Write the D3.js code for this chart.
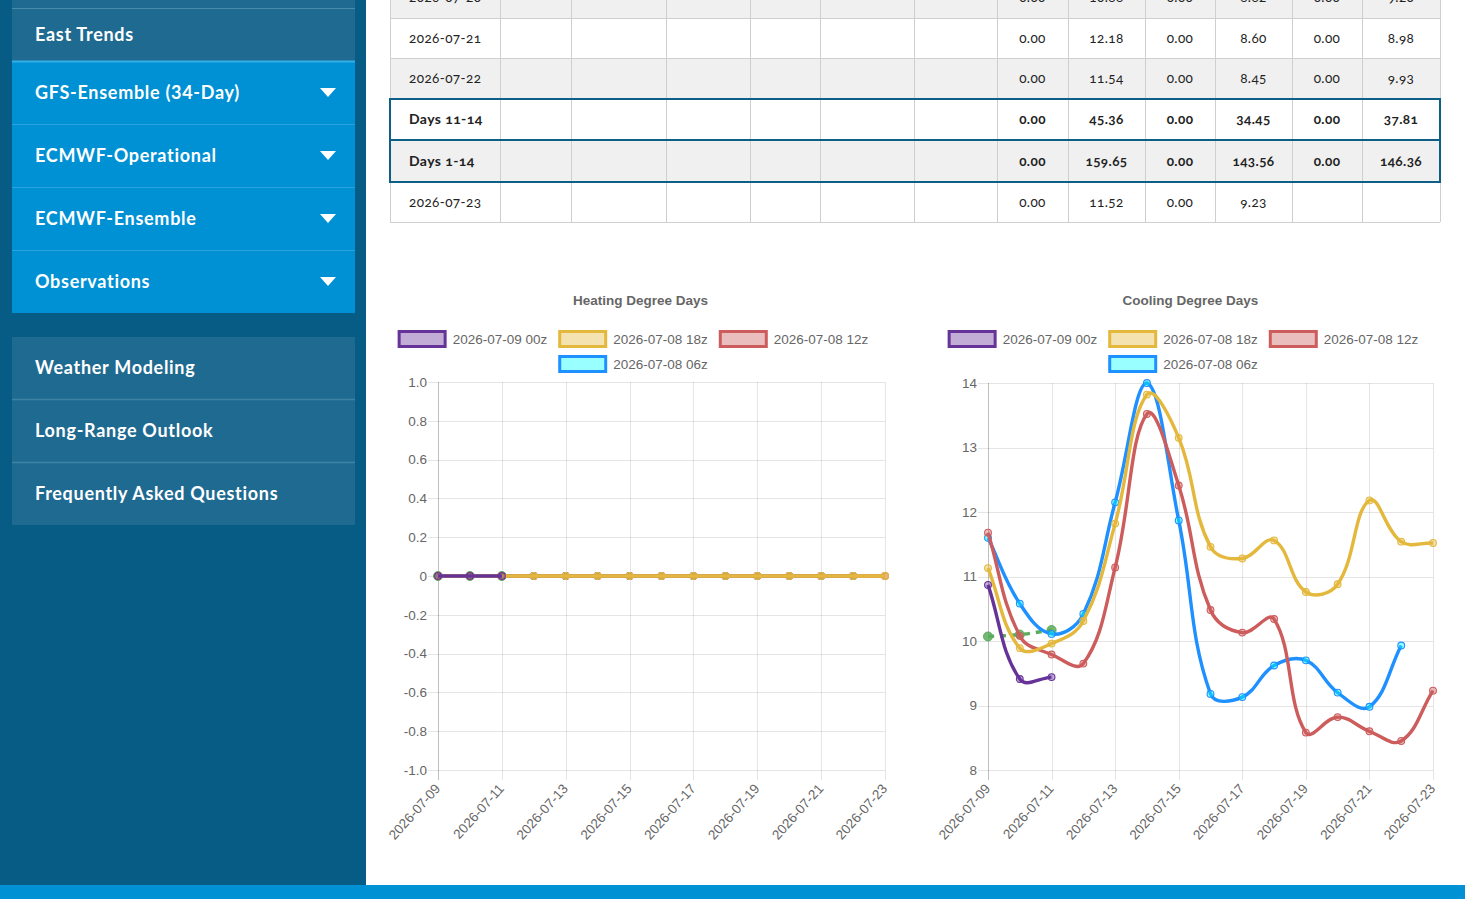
<!DOCTYPE html>
<html>
<head>
<meta charset="utf-8">
<script src="https://cdn.jsdelivr.net/npm/d3@7"></script>
<style>
  body { margin: 0; overflow: hidden; background: #fff; }
  svg { display: block; }
  .nav text { font-family: Lato, "Open Sans", sans-serif; font-weight: 700; font-size: 18px; letter-spacing: 0.7px; fill: #fff; }
  .tbl text { font-family: Lato, "Open Sans", sans-serif; font-size: 13.5px; letter-spacing: 0.4px; fill: #222; font-variant-numeric: oldstyle-nums; }
  .chart text { font-family: "Liberation Sans", Arial, sans-serif; fill: #666; font-size: 13.5px; }
</style>
</head>
<body>
<svg id="page" width="1465" height="899"></svg>
<script>
// ---- data ----
const dates = ["2026-07-09", "2026-07-10", "2026-07-11", "2026-07-12", "2026-07-13", "2026-07-14", "2026-07-15",
               "2026-07-16", "2026-07-17", "2026-07-18", "2026-07-19", "2026-07-20", "2026-07-21", "2026-07-22", "2026-07-23"];
const runLabels = ["2026-07-09 00z", "2026-07-08 18z", "2026-07-08 12z", "2026-07-08 06z"];

const hdd00z = [0, 0, 0];
const hdd18z = [0, 0, 0, 0, 0, 0, 0, 0, 0, 0, 0, 0, 0, 0, 0];
const hdd12z = [0, 0, 0, 0, 0, 0, 0, 0, 0, 0, 0, 0, 0, 0, 0];
const hdd06z = [0, 0, 0, 0, 0, 0, 0, 0, 0, 0, 0, 0, 0, 0];
const hddObserved = [0, 0, 0];

const cdd00z = [10.87, 9.41, 9.44];
const cdd18z = [11.13, 9.89, 9.96, 10.31, 11.82, 13.82, 13.15, 11.46, 11.28, 11.56, 10.76, 10.88, 12.18, 11.54, 11.52];
const cdd12z = [11.68, 10.08, 9.79, 9.65, 11.14, 13.52, 12.41, 10.48, 10.13, 10.34, 8.58, 8.82, 8.60, 8.45, 9.23];
const cdd06z = [11.60, 10.58, 10.11, 10.42, 12.15, 14.00, 11.87, 9.18, 9.13, 9.62, 9.70, 9.20, 8.98, 9.93];
const cddObserved = [10.07, 10.10, 10.17];

const hddTicks = [-1, -0.8, -0.6, -0.4, -0.2, 0, 0.2, 0.4, 0.6, 0.8, 1];
const hddTickLabels = ["-1.0", "-0.8", "-0.6", "-0.4", "-0.2", "0", "0.2", "0.4", "0.6", "0.8", "1.0"];
const cddTicks = [8, 9, 10, 11, 12, 13, 14];
const cddTickLabels = ["8", "9", "10", "11", "12", "13", "14"];

const tableRowLabels = ["2026-07-20", "2026-07-21", "2026-07-22", "Days 11-14", "Days 1-14", "2026-07-23"];
const days11to14 = [0.00, 45.36, 0.00, 34.45, 0.00, 37.81];
const days1to14 = [0.00, 159.65, 0.00, 143.56, 0.00, 146.36];

const navTop = ["East Trends"];
const navModels = ["GFS-Ensemble (34-Day)", "ECMWF-Operational", "ECMWF-Ensemble", "Observations"];
const navLower = ["Weather Modeling", "Long-Range Outlook", "Frequently Asked Questions"];

// ---- page ----
const svg = d3.select("#page");

svg.append("rect").attr("x", 0).attr("y", 0).attr("width", 366).attr("height", 899).attr("fill", "#065c85");
svg.append("rect").attr("x", 0).attr("y", 885).attr("width", 1465).attr("height", 14).attr("fill", "#0090d4");

// sidebar
const nav = svg.append("g").attr("class", "nav");
nav.append("rect").attr("x", 12).attr("y", 0).attr("width", 343).attr("height", 61).attr("fill", "#1f6a90");
nav.append("line").attr("x1", 12).attr("x2", 355).attr("y1", 8.5).attr("y2", 8.5).attr("stroke", "#4a8aab");
nav.selectAll("text.top").data(navTop).join("text")
  .attr("class", "top")
  .attr("x", 35).attr("y", 35).attr("dy", "0.35em")
  .text(d => d);

nav.append("rect").attr("x", 12).attr("y", 61).attr("width", 343).attr("height", 252).attr("fill", "#0090d4");
nav.append("line").attr("x1", 12).attr("x2", 355).attr("y1", 61.5).attr("y2", 61.5).attr("stroke", "#33aee8").attr("stroke-width", 2);
navModels.forEach((label, i) => {
  const y0 = 61 + i * 63;
  if (i > 0) nav.append("line").attr("x1", 12).attr("x2", 355).attr("y1", y0 + 0.5).attr("y2", y0 + 0.5).attr("stroke", "#2ba2dc");
  nav.append("text").attr("x", 35).attr("y", y0 + 32).attr("dy", "0.35em").text(label);
  nav.append("path")
    .attr("d", `M320,${y0 + 27}L336,${y0 + 27}L328,${y0 + 36}Z`)
    .attr("fill", "#fff");
});

nav.append("rect").attr("x", 12).attr("y", 337).attr("width", 343).attr("height", 188).attr("fill", "#1f6a90");
navLower.forEach((label, i) => {
  const y0 = 337 + i * 63;
  if (i > 0) nav.append("line").attr("x1", 12).attr("x2", 355).attr("y1", y0 - 0.5).attr("y2", y0 - 0.5).attr("stroke", "#3f82a5").attr("stroke-width", 1.5);
  nav.append("text").attr("x", 35).attr("y", y0 + 31).attr("dy", "0.35em").text(label);
});

// table
const colEdges = [390, 500, 571, 666, 750, 820, 914, 997, 1068, 1145, 1215, 1292, 1362, 1440];
const rowEdges = [-23, 18, 58, 99, 140, 182, 222];
const fmt = d3.format(".2f");
const tbl = svg.append("g").attr("class", "tbl");

const rowValues = tableRowLabels.map(label => {
  if (label === "Days 11-14") return days11to14;
  if (label === "Days 1-14") return days1to14;
  const i = dates.indexOf(label);
  return [hdd18z[i], cdd18z[i], hdd12z[i], cdd12z[i], hdd06z[i], cdd06z[i]];
});

tbl.selectAll("rect.row").data(tableRowLabels).join("rect")
  .attr("class", "row")
  .attr("x", colEdges[0]).attr("width", colEdges[colEdges.length - 1] - colEdges[0])
  .attr("y", (d, i) => rowEdges[i]).attr("height", (d, i) => rowEdges[i + 1] - rowEdges[i])
  .attr("fill", (d, i) => i % 2 === 0 ? "#f0f0f0" : "#fff");

tbl.selectAll("line.v").data(colEdges).join("line")
  .attr("class", "v")
  .attr("x1", d => d + 0.5).attr("x2", d => d + 0.5)
  .attr("y1", rowEdges[0]).attr("y2", rowEdges[rowEdges.length - 1])
  .attr("stroke", "#cfcfcf");
tbl.selectAll("line.h").data(rowEdges).join("line")
  .attr("class", "h")
  .attr("x1", colEdges[0]).attr("x2", colEdges[colEdges.length - 1])
  .attr("y1", d => d + 0.5).attr("y2", d => d + 0.5)
  .attr("stroke", "#cfcfcf");

tableRowLabels.forEach((label, r) => {
  const bold = label.startsWith("Days");
  const cy = (rowEdges[r] + rowEdges[r + 1]) / 2;
  tbl.append("text")
    .attr("x", 409).attr("y", cy).attr("dy", "0.35em")
    .style("font-weight", bold ? 700 : 400)
    .style("font-size", bold ? "14px" : null)
    .text(label);
  rowValues[r].forEach((v, c) => {
    if (v === undefined) return;
    tbl.append("text")
      .attr("x", (colEdges[7 + c] + colEdges[8 + c]) / 2).attr("y", cy).attr("dy", "0.35em")
      .attr("text-anchor", "middle")
      .style("font-weight", bold ? 700 : 400)
      .text(fmt(v));
  });
});

tbl.append("rect")
  .attr("x", 390).attr("y", 99).attr("width", 1050).attr("height", 83)
  .attr("fill", "none").attr("stroke", "#0d5f88").attr("stroke-width", 2);
tbl.append("line")
  .attr("x1", 390).attr("x2", 1440).attr("y1", 140).attr("y2", 140)
  .attr("stroke", "#0d5f88").attr("stroke-width", 2);

// ---- charts ----
const runColors = ["#663399", "#e4b83c", "#cd5c5c", "#1e90ff"];
const runFills = ["rgba(102,51,153,0.4)", "rgba(228,184,60,0.4)", "rgba(205,92,92,0.4)", "rgba(0,255,255,0.4)"];
const obsColor = "#5aab5a";

function splinePath(pts, t, box) {
  const cps = pts.map((cur, i) => {
    const prev = pts[i - 1] || cur, next = pts[i + 1] || cur;
    const d01 = Math.hypot(cur[0] - prev[0], cur[1] - prev[1]);
    const d12 = Math.hypot(next[0] - cur[0], next[1] - cur[1]);
    let s01 = d01 / (d01 + d12), s12 = d12 / (d01 + d12);
    if (isNaN(s01)) s01 = 0;
    if (isNaN(s12)) s12 = 0;
    const fa = t * s01, fb = t * s12;
    const clampX = v => Math.max(box.left, Math.min(box.right, v));
    const clampY = v => Math.max(box.top, Math.min(box.bottom, v));
    return {
      prev: [clampX(cur[0] - fa * (next[0] - prev[0])), clampY(cur[1] - fa * (next[1] - prev[1]))],
      next: [clampX(cur[0] + fb * (next[0] - prev[0])), clampY(cur[1] + fb * (next[1] - prev[1]))]
    };
  });
  const p = d3.path();
  p.moveTo(pts[0][0], pts[0][1]);
  for (let i = 1; i < pts.length; i++) {
    p.bezierCurveTo(cps[i - 1].next[0], cps[i - 1].next[1], cps[i].prev[0], cps[i].prev[1], pts[i][0], pts[i][1]);
  }
  return p.toString();
}

function drawChart(cfg) {
  const g = svg.append("g").attr("class", "chart");
  const x = d3.scalePoint().domain(dates).range([cfg.left, cfg.right]);
  const y = d3.scaleLinear().domain([cfg.ticks[0], cfg.ticks[cfg.ticks.length - 1]]).range([cfg.bottom, cfg.top]);

  g.append("text")
    .attr("x", cfg.center).attr("y", 300).attr("dy", "0.35em")
    .attr("text-anchor", "middle")
    .style("font-weight", "bold")
    .text(cfg.title);

  // legend
  const measure = g.append("text").attr("visibility", "hidden");
  const widths = runLabels.map(l => { measure.text(l); return measure.node().getComputedTextLength(); });
  measure.remove();
  [[0, 1, 2], [3]].forEach((row, r) => {
    const total = d3.sum(row, i => 55 + widths[i] + 11);
    let x0 = cfg.center - 2 - total / 2;
    const cy = 339 + r * 25;
    row.forEach(i => {
      g.append("rect")
        .attr("x", x0 + 1.5).attr("y", cy - 7.5).attr("width", 46).attr("height", 15)
        .attr("fill", runFills[i]).attr("stroke", runColors[i]).attr("stroke-width", 3);
      g.append("text").attr("x", x0 + 55).attr("y", cy).attr("dy", "0.35em").text(runLabels[i]);
      x0 += 55 + widths[i] + 11;
    });
  });

  // grid
  g.append("g").selectAll("line").data(cfg.ticks).join("line")
    .attr("x1", cfg.left - 10).attr("x2", cfg.right)
    .attr("y1", d => Math.round(y(d)) + 0.5).attr("y2", d => Math.round(y(d)) + 0.5)
    .attr("stroke", "rgba(0,0,0,0.1)");
  const shown = dates.filter((d, i) => i % 2 === 0);
  g.append("g").selectAll("line").data(shown).join("line")
    .attr("x1", d => Math.round(x(d)) + 0.5).attr("x2", d => Math.round(x(d)) + 0.5)
    .attr("y1", cfg.top).attr("y2", cfg.bottom + 10)
    .attr("stroke", (d, i) => i === 0 ? "rgba(0,0,0,0.25)" : "rgba(0,0,0,0.1)");

  g.append("g")
    .attr("transform", `translate(${cfg.left},0)`)
    .call(d3.axisLeft(y).tickValues(cfg.ticks).tickFormat((d, i) => cfg.tickLabels[i]).tickSize(0).tickPadding(11))
    .call(a => a.select(".domain").remove())
    .call(a => a.selectAll("text").attr("fill", "#666"))
    .attr("font-family", null).attr("font-size", null);

  g.append("g")
    .attr("transform", `translate(0,${cfg.bottom})`)
    .call(d3.axisBottom(x).tickValues(shown).tickSize(0))
    .call(a => a.select(".domain").remove())
    .call(a => a.selectAll("text")
      .attr("fill", "#666")
      .attr("y", 0).attr("dy", "0.35em")
      .attr("text-anchor", "end")
      .attr("transform", "translate(-1,16) rotate(-48)"))
    .attr("font-family", null).attr("font-size", null);

  // series, drawn bottom-first so the first run ends up on top
  const box = { left: cfg.left, right: cfg.right, top: cfg.top, bottom: cfg.bottom };
  const toPts = vals => vals.map((v, i) => [x(dates[i]), y(v)]);

  const obsPts = toPts(cfg.observed);
  g.append("path").attr("d", splinePath(obsPts, 0.4, box))
    .attr("fill", "none").attr("stroke", obsColor).attr("stroke-width", 3.4)
    .attr("stroke-dasharray", "6,6");
  g.append("g").selectAll("circle").data(obsPts).join("circle")
    .attr("cx", d => d[0]).attr("cy", d => d[1]).attr("r", 4.5)
    .attr("fill", obsColor).attr("fill-opacity", 0.85).attr("stroke", obsColor);

  [3, 2, 1, 0].forEach(i => {
    const pts = toPts(cfg.series[i]);
    g.append("path").attr("d", splinePath(pts, 0.4, box))
      .attr("fill", "none").attr("stroke", runColors[i]).attr("stroke-width", 3.4);
    g.append("g").selectAll("circle").data(pts).join("circle")
      .attr("cx", d => d[0]).attr("cy", d => d[1]).attr("r", 3.4)
      .attr("fill", runFills[i]).attr("stroke", runColors[i]).attr("stroke-width", 1.1);
  });
}

drawChart({
  title: "Heating Degree Days", center: 640.5,
  left: 438, right: 885, top: 382, bottom: 770,
  ticks: hddTicks, tickLabels: hddTickLabels,
  series: [hdd00z, hdd18z, hdd12z, hdd06z], observed: hddObserved
});
drawChart({
  title: "Cooling Degree Days", center: 1190.5,
  left: 988, right: 1433, top: 383, bottom: 770,
  ticks: cddTicks, tickLabels: cddTickLabels,
  series: [cdd00z, cdd18z, cdd12z, cdd06z], observed: cddObserved
});
</script>
</body>
</html>
